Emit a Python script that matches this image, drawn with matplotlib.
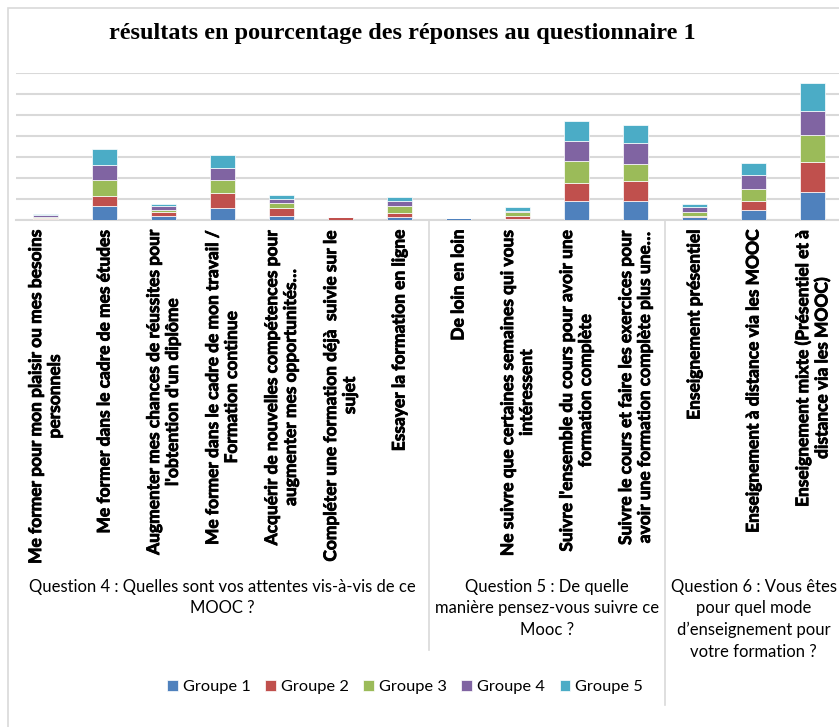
import numpy as np
import matplotlib
matplotlib.use('Agg')
import matplotlib.pyplot as plt
from matplotlib.patches import Rectangle
from matplotlib.lines import Line2D
import matplotlib.transforms as mtransforms
import matplotlib.patheffects as pe

# categories (answers), grouped by question
categories = [
    "Me former pour mon plaisir ou mes besoins\npersonnels",
    "Me former dans le cadre de mes études",
    "Augmenter mes chances de réussites pour\nl'obtention d'un diplôme",
    "Me former dans le cadre de mon travail /\nFormation continue",
    "Acquérir de nouvelles compétences pour\naugmenter mes opportunités…",
    "Compléter une formation déjà  suivie sur le\nsujet",
    "Essayer la formation en ligne",
    "De loin en loin",
    "Ne suivre que certaines semaines qui vous\nintéressent",
    "Suivre l'ensemble du cours pour avoir une\nformation complète",
    "Suivre le cours et faire les exercices pour\navoir une formation complète plus une…",
    "Enseignement présentiel",
    "Enseignement à distance via les MOOC",
    "Enseignement mixte (Présentiel et à\ndistance via les MOOC)",
]
questions = [
    "Question 4 : Quelles sont vos attentes vis-à-vis de ce\nMOOC ?",
    "Question 5 : De quelle\nmanière pensez-vous suivre ce\nMooc ?",
    "Question 6 : Vous êtes\npour quel mode\nd\u2019enseignement pour\nvotre formation ?",
]
question_sizes = [7, 4, 3]

series_names = ["Groupe 1", "Groupe 2", "Groupe 3", "Groupe 4", "Groupe 5"]
groupe1 = [0.07, 0.65, 0.21, 0.59, 0.21, 0.00, 0.13, 0.08, 0.06, 0.89, 0.89, 0.14, 0.46, 1.33]
groupe2 = [0.04, 0.49, 0.17, 0.68, 0.37, 0.12, 0.21, 0.00, 0.14, 0.89, 0.95, 0.06, 0.43, 1.44]
groupe3 = [0.05, 0.75, 0.08, 0.62, 0.25, 0.00, 0.32, 0.00, 0.17, 1.05, 0.81, 0.17, 0.57, 1.30]
groupe4 = [0.07, 0.75, 0.19, 0.59, 0.19, 0.00, 0.25, 0.00, 0.06, 0.94, 1.00, 0.25, 0.68, 1.13]
groupe5 = [0.07, 0.76, 0.13, 0.60, 0.19, 0.00, 0.17, 0.00, 0.21, 0.94, 0.86, 0.13, 0.57, 1.32]
colors = ['#4F81BD', '#C0504D', '#9BBB59', '#8064A2', '#4BACC6']

W, H = 839, 727
fig = plt.figure(figsize=(W / 100, H / 100), dpi=100)


def fx(px):
    return px / W


def fy(py):
    return 1 - py / H


# outer chart border
fig.patches.append(Rectangle((fx(8), -0.1), 1.0, fy(8) + 0.1, transform=fig.transFigure,
                             fill=False, edgecolor='#d9d9d9', linewidth=1.2))

ax = fig.add_axes([fx(16), fy(220), fx(842) - fx(16), fy(73) - fy(220)])
x = np.arange(len(categories))
bottom = np.zeros(len(categories))
for name, vals, c in zip(series_names, [groupe1, groupe2, groupe3, groupe4, groupe5], colors):
    ax.bar(x, vals, 0.41, bottom=bottom, color=c, edgecolor='white', linewidth=0.5,
           label=name, zorder=3)
    bottom += np.array(vals)

ax.set_xlim(-0.5, len(categories) - 0.5)
ax.set_ylim(0, 7)
ax.set_yticks(np.arange(0, 8, 1))
ax.yaxis.grid(True, color='#d9d9d9', linewidth=1.5, zorder=0)
ax.set_yticklabels([])
ax.tick_params(left=False, bottom=False, labelbottom=False)
for s in ['left', 'right', 'top']:
    ax.spines[s].set_visible(False)
ax.spines['bottom'].set_color('#d9d9d9')
ax.spines['bottom'].set_linewidth(1.5)

trans = mtransforms.blended_transform_factory(ax.transData, fig.transFigure)

# category labels (rotated), slightly thickened
thick = [pe.withStroke(linewidth=0.6, foreground='black')]
for i, lab in enumerate(categories):
    ax.text(i, fy(229), lab, transform=trans, rotation=90, ha='center', va='top',
            multialignment='center', fontsize=12.5, family='Lato', fontweight='bold',
            color='black', linespacing=1.22, path_effects=thick)

# question labels and separators
start = 0
seps_bottom = [650, 705]
for k, (q, n) in enumerate(zip(questions, question_sizes)):
    cx = start + (n - 1) / 2
    ax.text(cx, fy(579), q, transform=trans, ha='center', va='top', multialignment='center',
            fontsize=12, family='Lato', color='black', linespacing=1.42)
    start += n
    if k < len(questions) - 1:
        fig.add_artist(Line2D([start - 0.5, start - 0.5], [fy(220), fy(seps_bottom[k])],
                              transform=trans, color='#d9d9d9', linewidth=1.2))

fig.text(fx(402), fy(33), "résultats en pourcentage des réponses au questionnaire 1",
         ha='center', va='center', family='Liberation Serif', fontweight='bold', fontsize=17.5)

handles, labels = ax.get_legend_handles_labels()
fig.legend(handles, labels, loc='center', bbox_to_anchor=(fx(405), fy(687)), ncol=5,
           frameon=False, prop={'family': 'Lato', 'size': 11.8},
           handlelength=0.65, handleheight=0.65, handletextpad=0.3, columnspacing=0.9)

fig.savefig('out.png', dpi=100)
